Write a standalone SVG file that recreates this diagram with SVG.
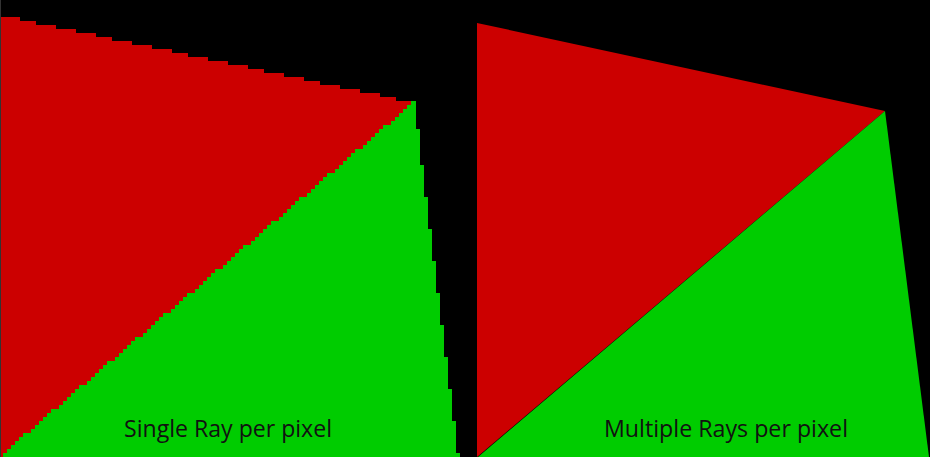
<svg xmlns="http://www.w3.org/2000/svg" width="930" height="457" viewBox="0 0 930 457">
<style>
.red{fill:#cc0000}
.green{fill:#00cc00}
.lbl{font-family:"Open Sans","Liberation Sans",sans-serif;font-size:24.5px;fill:#111}
</style>
<defs>
<filter id="pix" filterUnits="userSpaceOnUse" primitiveUnits="userSpaceOnUse" x="0" y="0" width="930" height="457" color-interpolation-filters="sRGB">
<feFlood x="5" y="3" width="1" height="1" flood-color="#fff" result="dot"/>
<feOffset in="dot" dx="0" dy="0" x="3" y="1" width="4" height="4" result="tileSrc"/>
<feTile in="tileSrc" x="0" y="0" width="930" height="457" result="grid"/>
<feComposite in="SourceGraphic" in2="grid" operator="in" result="samp"/>
<feMorphology in="samp" operator="dilate" radius="2"/>
</filter>
</defs>
<rect width="930" height="457" fill="#000"/>
<g id="single-ray">
<g filter="url(#pix)" shape-rendering="crispEdges">
<polygon class="red" points="1,16 414,103 1,457"/>
</g>
<g filter="url(#pix)" shape-rendering="crispEdges">
<polygon class="green" points="414,103 458,457 0,457"/>
</g>
<rect x="0" y="0" width="1" height="457" fill="#333"/>
<text class="lbl" x="124" y="437" textLength="208" lengthAdjust="spacingAndGlyphs">Single Ray per pixel</text>
</g>
<g id="multiple-rays">
<polygon class="red" points="477,23 885,111 477,457"/>
<polygon class="green" points="885,111 929,457 478,457"/>
<text class="lbl" x="604" y="437" textLength="244" lengthAdjust="spacingAndGlyphs">Multiple Rays per pixel</text>
</g>
</svg>
